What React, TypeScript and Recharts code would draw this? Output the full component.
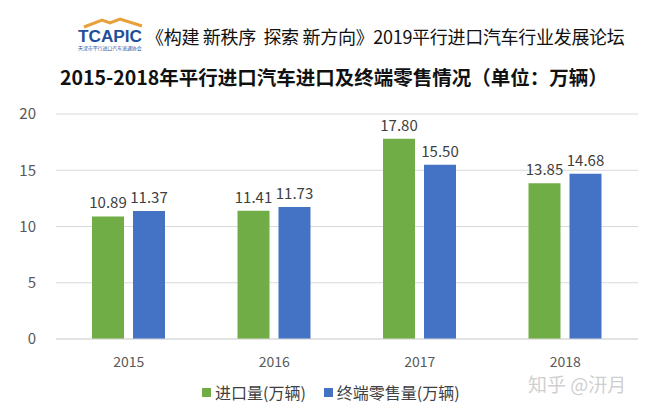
import React from 'react';
import { BarChart, Bar, XAxis, YAxis, CartesianGrid, LabelList } from 'recharts';

const years = ['2015', '2016', '2017', '2018'];
const importVolume = [10.89, 11.41, 17.8, 13.85];
const retailVolume = [11.37, 11.73, 15.5, 14.68];
const yTicks = [0, 5, 10, 15, 20];

const GREEN = '#70AD47';
const BLUE = '#4472C4';
const FONT = '"Noto Sans CJK SC", "Noto Sans", sans-serif';

const data = years.map((year, i) => ({
    year,
    importVolume: importVolume[i],
    retailVolume: retailVolume[i],
}));

const Logo: React.FC = () => (
    <svg width={72} height={42} style={{ position: 'absolute', left: 76, top: 14 }}>
        {/* roof */}
        <path d="M8 13 L26 6 L34 9 L44 5 L66 12" stroke="#E8A13A" strokeWidth={3} fill="none" />
        <text x={2} y={28} fontFamily="Liberation Sans, Arial, sans-serif" fontWeight="bold" fontSize={16} fill="#1F4E9A" textLength={64} lengthAdjust="spacingAndGlyphs">
            TCAPIC
        </text>
        <text x={2} y={36} fontFamily={FONT} fontSize={4.9} fill="#1F4E9A">
            天津市平行进口汽车流通协会
        </text>
    </svg>
);

const App: React.FC = () => {
    const fmt = (v: number) => v.toFixed(2);
    return (
        <div style={{ position: 'absolute', left: 0, top: 0, width: 648, height: 410, background: '#fff', fontFamily: FONT }}>
            <Logo />
            <div style={{ position: 'absolute', left: 146, top: 23, fontSize: 18, color: '#111', whiteSpace: 'pre', letterSpacing: -0.3 }}>
                《构建 新秩序  探索 新方向》2019平行进口汽车行业发展论坛
            </div>
            <div style={{ position: 'absolute', left: 60, top: 62, fontSize: 19.5, fontWeight: 'bold', color: '#111', whiteSpace: 'pre' }}>
                2015-2018年平行进口汽车进口及终端零售情况（单位：万辆）
            </div>
            <div style={{ position: 'absolute', left: 0, top: 0 }}>
                <BarChart
                    width={648}
                    height={410}
                    data={data}
                    margin={{ top: 114, right: 10, bottom: 31, left: 0 }}
                    barCategoryGap="25%"
                    barGap={9}
                >
                    <CartesianGrid vertical={false} stroke="#D9D9D9" />
                    <XAxis
                        dataKey="year"
                        axisLine={{ stroke: '#D9D9D9' }}
                        tickLine={false}
                        tick={{ fontSize: 14, fill: '#595959', fontFamily: FONT }}
                        tickMargin={12}
                        height={40}
                    />
                    <YAxis
                        domain={[0, 20]}
                        ticks={yTicks}
                        width={56}
                        axisLine={false}
                        tickLine={false}
                        tick={{ fontSize: 15, fill: '#595959', fontFamily: FONT }}
                        tickMargin={14}
                    />
                    <Bar dataKey="importVolume" fill={GREEN} barSize={32} isAnimationActive={false}>
                        <LabelList dataKey="importVolume" position="top" offset={8} formatter={fmt} style={{ fontSize: 15, fill: '#404040', fontFamily: FONT }} />
                    </Bar>
                    <Bar dataKey="retailVolume" fill={BLUE} barSize={32} isAnimationActive={false}>
                        <LabelList dataKey="retailVolume" position="top" offset={8} formatter={fmt} style={{ fontSize: 15, fill: '#404040', fontFamily: FONT }} />
                    </Bar>
                </BarChart>
            </div>
            <div style={{ position: 'absolute', left: 202, top: 380, display: 'flex', alignItems: 'center', fontSize: 16, color: '#404040' }}>
                <span style={{ width: 9, height: 9, background: GREEN, marginRight: 4 }} />
                <span style={{ marginRight: 18 }}>进口量(万辆)</span>
                <span style={{ width: 9, height: 9, background: BLUE, marginRight: 4 }} />
                <span>终端零售量(万辆)</span>
            </div>
            <div style={{ position: 'absolute', left: 528, top: 370, fontSize: 19, color: '#D0D0D0' }}>
                知乎 @汧月
            </div>
        </div>
    );
};

export default App;
